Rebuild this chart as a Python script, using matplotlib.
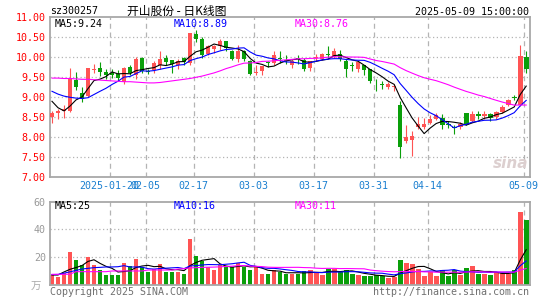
import matplotlib
matplotlib.use("Agg")
import matplotlib.pyplot as plt
import numpy as np
import pandas as pd


CODE = "sz300257"
TITRE = "开山股份 - 日K线图"
HORODATAGE = "2025-05-09 15:00:00"

OPEN = [8.52, 8.62, 8.66, 8.66, 9.44, 9.12, 9.03, 9.69, 9.72, 9.63,
        9.60, 9.58, 9.38, 9.76, 9.55, 9.98, 9.65, 9.68, 9.80, 9.98,
        9.92, 9.82, 9.97, 9.85, 10.59, 10.45, 10.08, 10.20, 10.28, 10.40,
        10.16, 9.95, 10.16, 9.91, 9.62, 9.66, 9.88, 9.87, 9.99, 9.93,
        9.80, 9.98, 9.93, 9.73, 9.98, 9.97, 10.09, 10.01, 10.08, 9.92,
        9.80, 9.70, 9.80, 9.70, 9.32, 9.33, 9.27, 9.26, 8.80, 7.91,
        7.93, 8.27, 8.27, 8.37, 8.47, 8.48, 8.34, 8.27, 8.26, 8.60,
        8.42, 8.59, 8.53, 8.57, 8.51, 8.64, 8.82, 9.01, 8.82, 10.02]
HIGH = [8.67, 8.72, 8.82, 9.73, 9.64, 9.27, 9.74, 9.83, 9.88, 9.72,
        9.70, 9.68, 9.76, 9.80, 10.00, 10.00, 9.72, 9.90, 10.16, 10.05,
        9.94, 9.95, 10.00, 10.62, 10.68, 10.50, 10.30, 10.30, 10.45, 10.42,
        10.18, 10.30, 10.18, 9.93, 9.80, 9.78, 9.92, 10.15, 10.15, 10.05,
        9.96, 10.06, 9.98, 9.92, 10.08, 10.12, 10.28, 10.24, 10.18, 9.95,
        9.88, 9.90, 9.82, 9.72, 9.45, 9.42, 9.38, 9.34, 8.91, 8.30,
        8.16, 8.52, 8.48, 8.55, 8.62, 8.58, 8.40, 8.32, 8.38, 8.62,
        8.67, 8.65, 8.67, 8.60, 8.66, 8.80, 8.97, 9.07, 10.32, 10.15]
LOW = [8.37, 8.46, 8.48, 8.64, 9.18, 8.88, 9.00, 9.62, 9.53, 9.46,
       9.48, 9.40, 9.34, 9.55, 9.45, 9.60, 9.58, 9.62, 9.72, 9.80,
       9.62, 9.72, 9.82, 9.80, 10.38, 9.98, 10.05, 10.10, 10.18, 10.15,
       9.93, 9.88, 9.90, 9.55, 9.55, 9.55, 9.75, 9.80, 9.85, 9.83,
       9.73, 9.83, 9.65, 9.65, 9.92, 9.93, 9.98, 9.98, 9.90, 9.52,
       9.65, 9.64, 9.55, 9.36, 9.16, 9.20, 9.20, 9.15, 7.49, 7.87,
       7.53, 8.22, 8.22, 8.33, 8.43, 8.22, 8.24, 8.08, 8.20, 8.30,
       8.38, 8.47, 8.45, 8.42, 8.45, 8.60, 8.78, 8.93, 8.78, 9.60]
CLOSE = [8.60, 8.67, 8.70, 9.45, 9.25, 8.97, 9.72, 9.70, 9.63, 9.57,
         9.55, 9.48, 9.74, 9.60, 9.97, 9.66, 9.63, 9.85, 9.95, 9.88,
         9.84, 9.92, 9.88, 10.60, 10.45, 10.05, 10.28, 10.28, 10.42, 10.23,
         9.95, 10.16, 9.95, 9.58, 9.64, 9.78, 9.85, 10.05, 9.96, 9.91,
         9.92, 9.95, 9.70, 9.90, 10.02, 10.08, 10.06, 10.16, 9.95, 9.72,
         9.79, 9.88, 9.68, 9.40, 9.30, 9.31, 9.33, 9.28, 7.76, 8.00,
         8.04, 8.33, 8.33, 8.45, 8.57, 8.31, 8.31, 8.24, 8.33, 8.33,
         8.59, 8.53, 8.59, 8.48, 8.64, 8.76, 8.93, 8.98, 10.03, 9.70]
# volume en 万手
VOLUME = [7.2, 5.5, 8.4, 23.7, 18.0, 14.4, 20.4, 14.4, 10.8, 7.2,
          7.2, 7.2, 16.1, 13.7, 18.7, 12.7, 9.6, 11.3, 15.1, 9.6,
          9.6, 9.6, 7.9, 33.1, 20.9, 17.5, 12.7, 10.8, 14.2, 13.2,
          13.2, 15.6, 12.7, 10.8, 13.7, 7.9, 7.9, 10.8, 9.6, 7.9,
          7.9, 7.9, 10.3, 10.8, 8.9, 7.2, 11.3, 11.3, 9.6, 10.8,
          7.9, 7.2, 6.5, 6.5, 7.2, 6.5, 4.8, 6.0, 18.0, 16.1,
          15.1, 11.3, 6.5, 9.6, 6.5, 10.8, 6.5, 10.8, 7.2, 12.0,
          13.7, 7.9, 7.9, 7.2, 9.6, 8.9, 7.9, 10.8, 52.6, 46.8]

# debut des moyennes mobiles (historique hors fenetre)
MA5_DEBUT = [8.90, 8.74, 8.66, 8.78]
MA10_DEBUT = [9.15, 9.08, 9.03, 9.00, 8.98, 8.97, 8.99, 9.07, 9.15]
MA30_DEBUT = [9.48, 9.48, 9.47, 9.47, 9.46, 9.45, 9.45, 9.44, 9.43, 9.42,
              9.41, 9.40, 9.39, 9.39, 9.38, 9.37, 9.36, 9.36, 9.37, 9.39,
              9.41, 9.43, 9.45, 9.47, 9.50, 9.53, 9.57, 9.61, 9.66]
VMA5_DEBUT = [7.2, 7.2, 9.4, 11.3]
VMA10_DEBUT = [7.5, 7.6, 8.5, 9.5, 10.5, 11.5, 12.0, 12.5, 12.7]
VMA30_DEBUT = [7.7, 7.7, 7.7, 7.8, 9.6, 9.6, 9.6, 9.6, 9.6, 9.6,
               10.1, 10.1, 10.1, 10.1, 10.1, 10.1, 10.8, 10.8, 10.8, 10.8,
               10.8, 11.5, 11.8, 12.3, 12.5, 12.7, 12.8, 12.9, 13.1]

DATES_POS = [10, 16, 24, 34, 44, 54, 63, 79]
DATES_TXT = ["2025-01-20", "02-05", "02-17", "03-03", "03-17", "03-31", "04-14", "05-09"]
PRIX_TICKS = [7.0, 7.5, 8.0, 8.5, 9.0, 9.5, 10.0, 10.5, 11.0]
VOL_TICKS = [20, 40, 60]
LEG_PRIX = ["MA5:9.24", "MA10:8.89", "MA30:8.76"]
LEG_VOL = ["MA5:25", "MA10:16", "MA30:11"]

ROUGE = "#ff5454"
VERT = "#0a9f0a"
COULEURS_MA = ["black", "#0000ff", "#ff00ff"]
GRIS = "#a8a8a8"
MONO = "DejaVu Sans Mono"
W, H = 545, 300


def moyenne(serie, n, debut):
    ma = pd.Series(serie).rolling(n).mean()
    ma.iloc[:len(debut)] = debut
    return ma.to_numpy()


def fx(px):
    return px / W


def fy(py):
    return 1 - py / H


def preparer_axe(ax, yticks, labels, couleur_labels):
    for s in ax.spines.values():
        s.set_color(GRIS)
        s.set_linewidth(1.3)
    ax.set_yticks(yticks)
    ax.set_yticklabels(labels, fontfamily=MONO)
    ax.tick_params(axis="y", length=0, pad=3, labelsize=7.2, labelcolor=couleur_labels)
    for t in yticks[1:-1] if yticks[0] == 7.0 else yticks[:-1]:
        ax.axhline(t, color="#b4b4b4", lw=0.9, ls=(0, (1, 2)), zorder=0)
    for d in DATES_POS:
        ax.axvline(d - 0.4, color="#b4b4b4", lw=0.9, ls=(0, (4, 3)), zorder=0)
    ax.set_xlim(-0.33, 79.55)


def main():
    o, h, l, c = map(np.array, (OPEN, HIGH, LOW, CLOSE))
    vol = np.array(VOLUME)
    x = np.arange(len(c))
    couleurs = np.where(c >= o, ROUGE, VERT)

    fig = plt.figure(figsize=(W / 100, H / 100), dpi=100)
    ax = fig.add_axes([fx(50), fy(177.3), fx(479.5), 160 / H])
    axv = fig.add_axes([fx(50), fy(285), fx(479.5), 83.3 / H])

    # chandeliers
    ax.vlines(x, l, h, colors=couleurs, lw=0.8, zorder=2)
    ax.bar(x, np.maximum(np.abs(c - o), 0.02), bottom=np.minimum(o, c),
           width=0.78, color=couleurs, lw=0, zorder=3)
    for n, debut, coul in zip((5, 10, 30), (MA5_DEBUT, MA10_DEBUT, MA30_DEBUT), COULEURS_MA):
        ax.plot(x, moyenne(c, n, debut), color=coul, lw=0.8, zorder=4)
    ax.set_ylim(7.0, 11.0)
    preparer_axe(ax, PRIX_TICKS, [f"{p:.2f}" for p in PRIX_TICKS], "#ff0000")
    ax.set_xticks([d - 0.4 for d in DATES_POS])
    ax.set_xticklabels(DATES_TXT, fontfamily=MONO)
    ax.tick_params(axis="x", length=0, pad=3, labelsize=7.2, labelcolor="#1a7fd0")

    # volume
    axv.bar(x, vol, width=0.8, color=couleurs, lw=0, zorder=2)
    for n, debut, coul in zip((5, 10, 30), (VMA5_DEBUT, VMA10_DEBUT, VMA30_DEBUT), COULEURS_MA):
        axv.plot(x, moyenne(vol, n, debut), color=coul, lw=0.8, zorder=4)
    axv.set_ylim(0, 60)
    preparer_axe(axv, VOL_TICKS, [str(v) for v in VOL_TICKS], "#999999")
    axv.set_xticks([])

    # textes
    fig.text(fx(50), fy(11), CODE, fontsize=7.2, family=MONO, va="center")
    fig.text(fx(177), fy(11), TITRE, fontsize=8.5, ha="center", va="center",
             family=["Noto Sans CJK SC", "DejaVu Sans"])
    fig.text(fx(529), fy(12), HORODATAGE, fontsize=7.2, family=MONO, ha="right", va="center")
    for txt, px, coul in zip(LEG_PRIX, (55, 174, 295), COULEURS_MA):
        fig.text(fx(px), fy(24), txt, fontsize=7.2, family=MONO, color=coul, va="center")
    for txt, px, coul in zip(LEG_VOL, (55, 174, 295), COULEURS_MA):
        fig.text(fx(px), fy(206), txt, fontsize=7.2, family=MONO, color=coul, va="center")
    fig.text(fx(36), fy(287), "万", fontsize=7.5, color="#aaaaaa", ha="center", va="center",
             family=["Noto Sans CJK SC", "DejaVu Sans"])
    fig.text(fx(50), fy(292), "Copyright 2025 SINA.COM", fontsize=7.2, family=MONO,
             color="#707070", va="center")
    fig.text(fx(529), fy(292), "http://finance.sina.com.cn", fontsize=7.2, family=MONO,
             color="#707070", ha="right", va="center")
    fig.text(fx(511), fy(164), "sina", fontsize=11, style="italic", weight="bold",
             color="#dccfcf", ha="center", va="center", zorder=1)

    fig.savefig("out.png", dpi=100, facecolor="white")
    plt.close(fig)


if __name__ == "__main__":
    main()
